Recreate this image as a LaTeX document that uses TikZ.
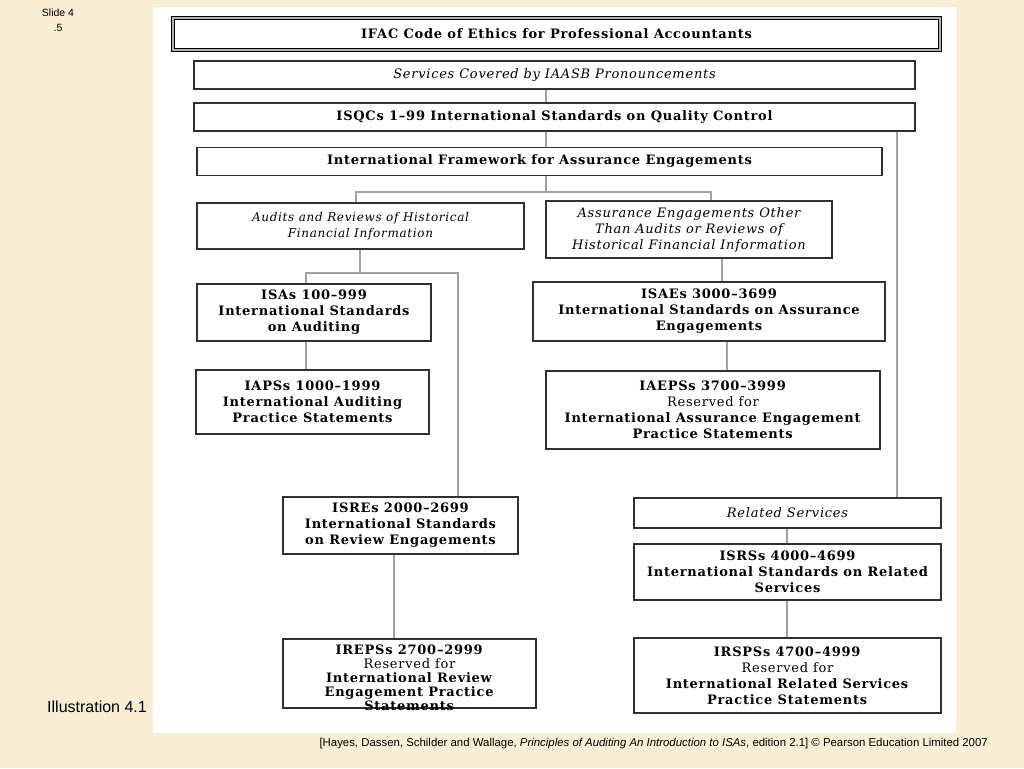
\documentclass[tikz,border=0pt]{standalone}
\usepackage{fontspec}
\setmainfont{DejaVu Serif}
\setsansfont{Liberation Sans}
\newfontfamily\boxfont[LetterSpace=5.7]{DejaVu Serif}
\definecolor{cream}{HTML}{F8EED3}
\definecolor{linkgray}{HTML}{A0A0A0}
\definecolor{boxline}{HTML}{303030}
\begin{document}
\begin{tikzpicture}[x=1pt,y=-1pt,
  box/.style={draw=boxline,line width=1.3pt,fill=white,align=center,inner sep=0pt,
    font=\boxfont\fontsize{13}{16}\selectfont},
  bbox/.style={box,font=\boxfont\fontsize{13}{16}\selectfont\bfseries},
  ibox/.style={box,font=\boxfont\fontsize{13}{16}\selectfont\itshape},
  link/.style={draw=linkgray,line width=1.8pt},
  lbl/.style={font=\sffamily,inner sep=0pt}]
\useasboundingbox (0,0) rectangle (1024,768);
\fill[cream] (0,0) rectangle (1024,768);
\fill[white] (153,7) rectangle (956,733);
% labels
\node[lbl,font=\sffamily\fontsize{10.5}{15}\selectfont,align=center] (slide) at (58,20) {Slide 4\\.5};
\node[lbl,font=\sffamily\fontsize{16}{18}\selectfont,anchor=west] (ill) at (47,707) {Illustration 4.1};
\node[lbl,font=\sffamily\fontsize{11.4}{13}\selectfont,anchor=east] (cap) at (988,744)
  {[Hayes, Dassen, Schilder and Wallage, \textit{Principles of Auditing An Introduction to ISAs}, edition 2.1] © Pearson Education Limited 2007};
% boxes
\node[bbox,draw=black,line width=1.3pt,double=gray!60,double distance=2.2pt,minimum width=767pt,minimum height=32pt] (title) at (556.5,34) {IFAC Code of Ethics for Professional Accountants};
\node[ibox,minimum width=721pt,minimum height=28pt] (services) at (554.5,75) {Services Covered by IAASB Pronouncements};
\node[bbox,minimum width=721pt,minimum height=28pt] (isqc) at (554.5,117) {ISQCs 1–99 International Standards on Quality Control};
\node[bbox,minimum width=685pt,minimum height=28pt] (frame) at (539.5,161.5) {International Framework for Assurance Engagements};
\node[ibox,font=\boxfont\fontsize{12}{16}\selectfont\itshape,minimum width=327pt,minimum height=46pt] (audits) at (360.5,226) {Audits and Reviews of Historical\\Financial Information};
\node[ibox,minimum width=286pt,minimum height=57pt] (assur) at (689,229.5) {Assurance Engagements Other\\Than Audits or Reviews of\\Historical Financial Information};
\node[bbox,minimum width=234pt,minimum height=57pt] (isa) at (314,312.5) {ISAs 100–999\\International Standards\\on Auditing};
\node[bbox,minimum width=233pt,minimum height=64pt] (iaps) at (312.5,402) {IAPSs 1000–1999\\International Auditing\\Practice Statements};
\node[bbox,minimum width=352pt,minimum height=59pt] (isae) at (709,311.5) {ISAEs 3000–3699\\International Standards on Assurance\\Engagements};
\node[box,minimum width=334pt,minimum height=78pt] (iaeps) at (713,410) {\textbf{IAEPSs 3700–3999}\\Reserved for\\\textbf{International Assurance Engagement}\\\textbf{Practice Statements}};
\node[bbox,minimum width=235pt,minimum height=57pt] (isre) at (400.5,525.5) {ISREs 2000–2699\\International Standards\\on Review Engagements};
\node[box,minimum width=253pt,minimum height=69pt,
  label={[font=\boxfont\fontsize{13}{14}\selectfont,align=center,inner sep=0pt,yshift=-4pt]center:{\textbf{IREPSs 2700–2999}\\Reserved for\\\textbf{International Review}\\\textbf{Engagement Practice}\\\textbf{Statements}}}] (ireps) at (409.5,673.5) {};
\node[ibox,minimum width=307pt,minimum height=30pt] (related) at (787.5,513) {Related Services};
\node[bbox,minimum width=307pt,minimum height=56pt] (isrs) at (787.5,572) {ISRSs 4000–4699\\International Standards on Related\\Services};
\node[box,minimum width=307pt,minimum height=75pt] (irsps) at (787.5,675.5) {\textbf{IRSPSs 4700–4999}\\Reserved for\\\textbf{International Related Services}\\\textbf{Practice Statements}};
% connector coordinates
\coordinate (spine) at (546,0);
\coordinate (b1) at (546,192);
\coordinate (b1l) at (356,192);
\coordinate (b1r) at (711,192);
\coordinate (b2) at (360,273);
\coordinate (b2l) at (306,273);
\coordinate (b2r) at (458,273);
\coordinate (xae) at (722,0);
\coordinate (xaep) at (727,0);
\coordinate (xre) at (394,0);
\coordinate (xrs) at (897,0);
\coordinate (xrel) at (787,0);
% connectors
\draw[link] (spine |- services.south) -- (spine |- isqc.north);
\draw[link] (spine |- isqc.south) -- (spine |- frame.north);
\draw[link] (spine |- frame.south) -- (b1);
\draw[link] (audits.north -| b1l) -- (b1l) -- (b1r) -- (assur.north -| b1r);
\draw[link] (audits.south -| b2) -- (b2);
\draw[link] (isa.north -| b2l) -- (b2l) -- (b2r) -- (isre.north -| b2r);
\draw[link] (isa.south -| b2l) -- (iaps.north -| b2l);
\draw[link] (xae |- assur.south) -- (xae |- isae.north);
\draw[link] (xaep |- isae.south) -- (xaep |- iaeps.north);
\draw[link] (xre |- isre.south) -- (xre |- ireps.north);
\draw[link] (xrs |- isqc.south) -- (xrs |- related.north);
\draw[link] (xrel |- related.south) -- (xrel |- isrs.north);
\draw[link] (xrel |- isrs.south) -- (xrel |- irsps.north);
\end{tikzpicture}
\end{document}
